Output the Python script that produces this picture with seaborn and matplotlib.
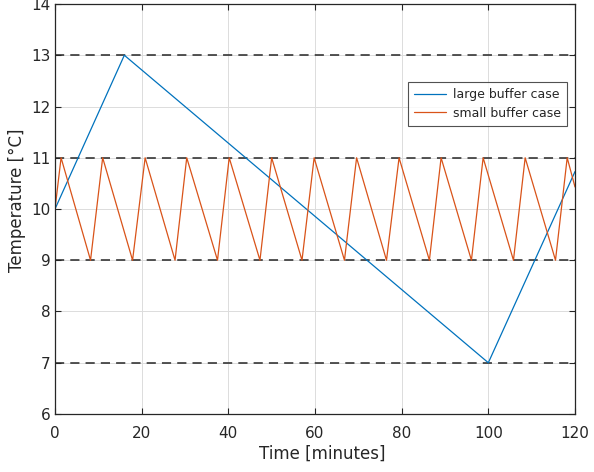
import numpy as np
import pandas as pd
import matplotlib
matplotlib.use("Agg")
import matplotlib.pyplot as plt
import seaborn as sns

# Data
large_t = [0, 16, 100, 120]
large_T = [10, 13, 7, 10.73]

small_t = [0, 1.4, 8.2, 11.0, 17.9, 20.8, 27.7, 30.4, 37.5, 40.2, 47.3, 50.0,
           57.0, 59.8, 66.8, 69.6, 76.5, 79.4, 86.4, 89.1, 96.1, 98.8, 105.8,
           108.5, 115.5, 118.2, 120]
small_T = [10, 11, 9, 11, 9, 11, 9, 11, 9, 11, 9, 11, 9, 11, 9, 11, 9, 11,
           9, 11, 9, 11, 9, 11, 9, 11, 10.43]

limit_levels = [7, 9, 11, 13]
xticks = [0, 20, 40, 60, 80, 100, 120]
yticks = [6, 7, 8, 9, 10, 11, 12, 13, 14]

sns.set_theme(style="white")
plt.rcParams['font.family'] = ['DejaVu Sans']

fig = plt.figure(figsize=(5.94, 4.72), dpi=100)
ax = fig.add_axes([0.0926, 0.1229, 0.8754, 0.8686])

df_large = pd.DataFrame({"t": large_t, "T": large_T})
df_small = pd.DataFrame({"t": small_t, "T": small_T})

sns.lineplot(data=df_large, x="t", y="T", ax=ax, color="#0072BD", lw=0.9,
             label="large buffer case", sort=False, estimator=None)
sns.lineplot(data=df_small, x="t", y="T", ax=ax, color="#D95319", lw=0.9,
             label="small buffer case", sort=False, estimator=None)

for lv in limit_levels:
    ax.axhline(lv, color="#262626", ls=(0, (6, 4)), lw=1.1, zorder=1)

ax.set_xlim(0, 120)
ax.set_ylim(6, 14)
ax.set_xticks(xticks)
ax.set_yticks(yticks)
ax.grid(True, color="#dcdcdc", lw=0.7)
ax.set_axisbelow(True)
ax.tick_params(direction="in", length=4, width=0.8, colors="#262626",
               labelsize=11, top=True, right=True, bottom=True, left=True,
               pad=3)
ax.tick_params(axis="x", pad=8.5)
for s in ax.spines.values():
    s.set_color("#262626")
    s.set_linewidth(0.9)
ax.set_xlabel("Time [minutes]", fontsize=12, color="#262626", labelpad=3)
ax.set_ylabel("Temperature [°C]", fontsize=12, color="#262626", labelpad=4)
ax.xaxis.label.set_x(0.514)
ax.yaxis.label.set_y(0.522)

leg = ax.legend(loc="upper left", bbox_to_anchor=(0.678, 0.81), fontsize=9,
                frameon=True, fancybox=False, borderpad=0.5,
                handlelength=2.6, handletextpad=0.5, labelspacing=0.45,
                borderaxespad=0)
leg.get_frame().set_edgecolor("#262626")
leg.get_frame().set_linewidth(0.8)

fig.savefig("out.png", dpi=100)
